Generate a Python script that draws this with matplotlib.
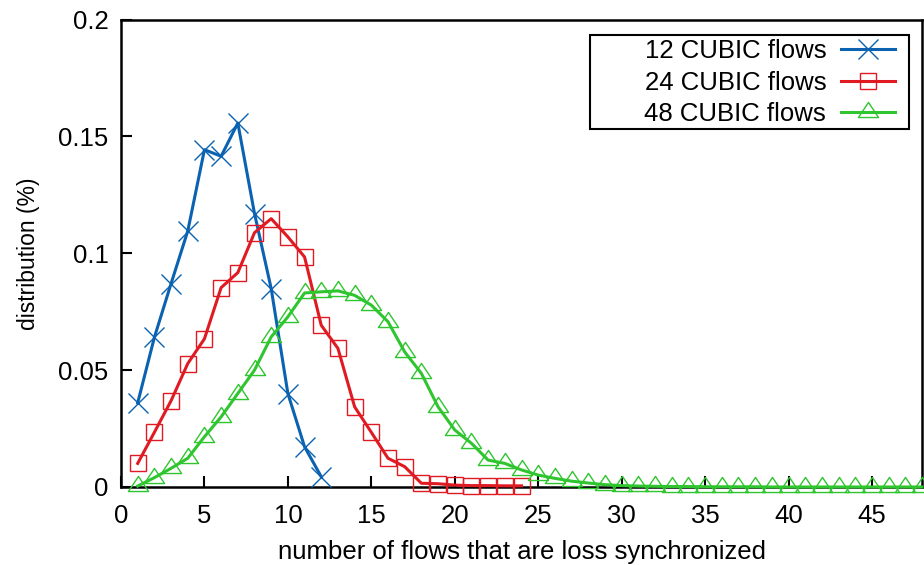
import matplotlib
matplotlib.use("Agg")
import matplotlib.pyplot as plt
from matplotlib.path import Path
from matplotlib.patches import Rectangle

# ---- data ----
x12 = list(range(1, 13))
y12 = [0.036, 0.064, 0.087, 0.1095, 0.1443, 0.1415, 0.1557, 0.117, 0.0849, 0.040, 0.0172, 0.0044]

x24 = list(range(1, 25))
y24 = [0.0101, 0.0234, 0.0369, 0.0528, 0.0634, 0.0853, 0.0917, 0.1088, 0.1148, 0.107,
       0.0984, 0.0692, 0.0593, 0.0343, 0.0234, 0.0123, 0.0087, 0.0016, 0.0014, 0.0008,
       0.0006, 0.0006, 0.0005, 0.0005]

x48 = list(range(1, 49))
y48 = [0.0004, 0.004, 0.008, 0.0123, 0.0215, 0.030, 0.040, 0.050, 0.0642, 0.0728,
       0.083, 0.0835, 0.0839, 0.082, 0.0778, 0.0707, 0.0578, 0.0486, 0.0343, 0.0244,
       0.0187, 0.0115, 0.0101, 0.0073, 0.0051, 0.0037, 0.0025, 0.0017, 0.001, 0.0006,
       0.0004, 0.0003, 0.0002, 0.0002, 0.0001, 0.0001, 0.0001, 0.0001, 0.0, 0.0,
       0.0, 0.0, 0.0, 0.0, 0.0, 0.0, 0.0, 0.0]

labels = ["12 CUBIC flows", "24 CUBIC flows", "48 CUBIC flows"]
xticks = [0, 5, 10, 15, 20, 25, 30, 35, 40, 45]
yticks = [0, 0.05, 0.1, 0.15, 0.2]
ytick_labels = ["0", "0.05", "0.1", "0.15", "0.2"]

plt.rcParams['font.family'] = ['Liberation Sans', 'DejaVu Sans']

W, H = 924, 565
fig = plt.figure(figsize=(W / 100, H / 100), dpi=100)
L, R, T, B = 121, 922, 19.5, 487
ax = fig.add_axes([L / W, 1 - B / H, (R - L) / W, (B - T) / H])

tri = Path([(0, 1.0), (-1, -0.5), (1, -0.5), (0, 1.0)],
           [Path.MOVETO, Path.LINETO, Path.LINETO, Path.CLOSEPOLY])

blue, red, green = "#0a62b0", "#e01a22", "#2fc52f"
lw = 2.2
ax.plot(x12, y12, color=blue, lw=lw, marker='x', ms=14.5, mew=1.0, label=labels[0], clip_on=False, zorder=3)
ax.plot(x24, y24, color=red, lw=lw, marker='s', ms=12, mew=1.0, mfc='none', label=labels[1], clip_on=False, zorder=3)
ax.plot(x48, y48, color=green, lw=lw, marker=tri, ms=14.5, mew=1.0, mfc='none', label=labels[2], clip_on=False, zorder=3)

fs = 18.5
ax.set_xlim(0, 48)
ax.set_ylim(0, 0.2)
ax.set_xticks(xticks)
ax.set_yticks(yticks)
ax.set_yticklabels(ytick_labels)
ax.tick_params(direction='in', length=8, width=1.5, labelsize=fs, top=False, right=False)
ax.tick_params(axis='x', pad=12)
ax.tick_params(axis='y', pad=9)
for s in ax.spines.values():
    s.set_linewidth(1.8)

ax.set_xlabel("number of flows that are loss synchronized", fontsize=fs, labelpad=9)
ax.set_ylabel("distribution (%)", fontsize=16.5, labelpad=13)

# legend (handles on the right, box drawn separately like gnuplot)
def fx(px):
    return (px - L) / (R - L)

def fy(py):
    return (B - py) / (B - T)

leg = ax.legend(loc='upper right', bbox_to_anchor=(fx(895), fy(39)), markerfirst=False,
                frameon=False, fontsize=fs, handlelength=2.1,
                borderpad=0.0, labelspacing=0.3, handletextpad=0.58, borderaxespad=0)
ax.add_patch(Rectangle((fx(590), fy(129)), fx(909) - fx(590), fy(35) - fy(129),
                       transform=ax.transAxes, fill=False, edgecolor='black', lw=1.5,
                       clip_on=False, zorder=4))

fig.savefig("out.png", dpi=100)
